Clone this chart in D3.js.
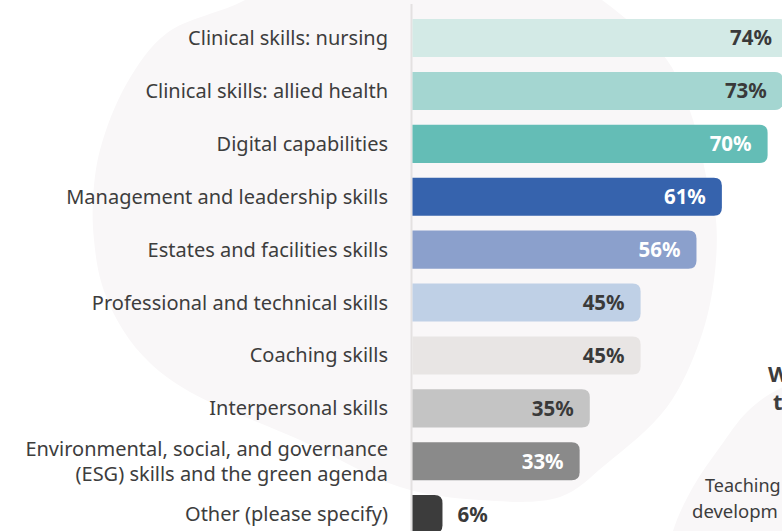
<!DOCTYPE html>
<html>
<head>
<meta charset="utf-8">
<script src="https://cdn.jsdelivr.net/npm/d3@7"></script>
<style>
  html, body { margin: 0; padding: 0; background: #ffffff; overflow: hidden; }
  svg { display: block; }
  .cat { font-family: "Noto Sans", "Open Sans", sans-serif; font-size: 20px; fill: #3d3d3d; }
  .val { font-family: "Noto Sans", "Open Sans", sans-serif; font-size: 20.5px; font-weight: 700; }
  .side { font-family: "Noto Sans", "Open Sans", sans-serif; fill: #3d3d3d; }
</style>
</head>
<body>
<svg id="chart" width="782" height="531"></svg>
<script>
// skills asked about, top to bottom
var categories = [
    "Clinical skills: nursing",
    "Clinical skills: allied health",
    "Digital capabilities",
    "Management and leadership skills",
    "Estates and facilities skills",
    "Professional and technical skills",
    "Coaching skills",
    "Interpersonal skills",
    "Environmental, social, and governance\n(ESG) skills and the green agenda",
    "Other (please specify)"
];
var values = [74, 73, 70, 61, 56, 45, 45, 35, 33, 6];
var barColors = ["#d3eae6", "#a4d6d1", "#64bdb6", "#3663ad", "#8ba0cc",
                 "#bfd0e6", "#e8e5e4", "#c4c4c4", "#8a8a8a", "#3c3c3c"];
var labelColors = ["#3a3a3a", "#3a3a3a", "#ffffff", "#ffffff", "#ffffff",
                   "#3a3a3a", "#3a3a3a", "#3a3a3a", "#ffffff", "#3a3a3a"];

var svg = d3.select("#chart");

// soft background blobs (decoration only)
var blob = d3.line().curve(d3.curveCatmullRomClosed);
svg.append("path")
    .attr("d", blob([[245, 0], [167, 33], [127, 83], [100, 150], [93, 200], [94, 240],
                     [102, 285], [123, 330], [150, 363], [190, 392], [300, 440], [400, 487],
                     [480, 500], [560, 497], [605, 465], [667, 407], [700, 340], [714, 280],
                     [716, 220], [707, 180], [693, 120], [667, 60], [602, 0], [520, -50],
                     [400, -70], [300, -40]]))
    .attr("fill", "#f9f7f8");
svg.append("path")
    .attr("d", blob([[673, 531], [693, 487], [720, 447], [747, 412], [777, 390],
                     [830, 372], [900, 380], [900, 600], [660, 600]]))
    .attr("fill", "#f9f7f8");

var x = d3.scaleLinear().domain([0, 100]).range([412, 920]);
var y = d3.scaleBand().domain(categories).range([4.2, 548]).padding(0.28);

// thin axis line
svg.append("line")
    .attr("x1", 411.5).attr("x2", 411.5)
    .attr("y1", 4).attr("y2", 531)
    .attr("stroke", "#e4e1e1").attr("stroke-width", 2);

// bar with only the right end rounded
function barPath(d, i) {
    var x0 = x(0) + 0.5, x1 = x(d), y0 = y(categories[i]), h = y.bandwidth();
    var r = Math.min(8, (x1 - x0) / 2);
    return "M" + x0 + "," + y0
        + "H" + (x1 - r)
        + "Q" + x1 + "," + y0 + " " + x1 + "," + (y0 + r)
        + "V" + (y0 + h - r)
        + "Q" + x1 + "," + (y0 + h) + " " + (x1 - r) + "," + (y0 + h)
        + "H" + x0 + "Z";
}

svg.append("g").selectAll("path")
    .data(values)
    .enter().append("path")
    .attr("d", barPath)
    .attr("fill", function(d, i) { return barColors[i]; });

// value labels, inside the bar except when it is too short
svg.append("g").selectAll("text")
    .data(values)
    .enter().append("text")
    .attr("class", "val")
    .attr("x", function(d) { return d < 15 ? x(d) + 15 : x(d) - 16; })
    .attr("y", function(d, i) { return y(categories[i]) + y.bandwidth() / 2; })
    .attr("dy", "0.36em")
    .attr("text-anchor", function(d) { return d < 15 ? "start" : "end"; })
    .attr("fill", function(d, i) { return labelColors[i]; })
    .text(function(d) { return d + "%"; });

// category labels, right aligned against the axis
var cats = svg.append("g").selectAll("text")
    .data(categories)
    .enter().append("text")
    .attr("class", "cat")
    .attr("text-anchor", "end")
    .attr("x", 388)
    .attr("y", function(d) { return y(d) + y.bandwidth() / 2; });

cats.each(function(d) {
    var lines = d.split("\n");
    var t = d3.select(this);
    lines.forEach(function(line, k) {
        t.append("tspan")
            .attr("x", 388)
            .attr("dy", k == 0 ? (0.35 - (lines.length - 1) * 0.62) + "em" : "1.24em")
            .text(line);
    });
});

// edge of the neighbouring panel, cut off by the frame
svg.append("text").attr("class", "side")
    .attr("x", 768).attr("y", 382)
    .style("font-size", "22px").style("font-weight", 700)
    .text("W");
svg.append("text").attr("class", "side")
    .attr("x", 773).attr("y", 410)
    .style("font-size", "22px").style("font-weight", 700)
    .text("t");
svg.append("text").attr("class", "side")
    .attr("x", 705).attr("y", 492)
    .style("font-size", "18px")
    .text("Teaching");
svg.append("text").attr("class", "side")
    .attr("x", 692).attr("y", 518)
    .style("font-size", "18.5px")
    .text("developm");
</script>
</body>
</html>
